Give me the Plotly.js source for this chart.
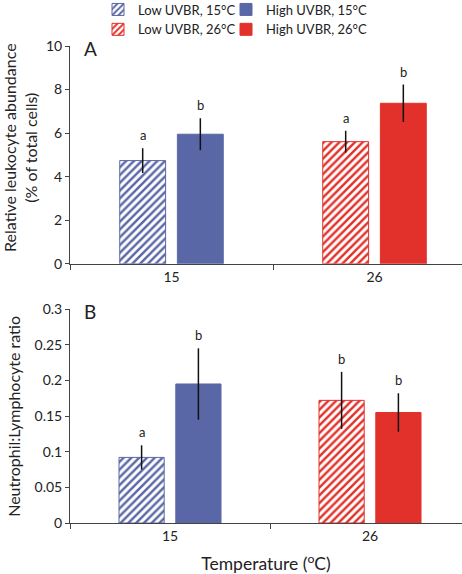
<!DOCTYPE html>
<html>
<head>
<meta charset="utf-8">
<script src="https://cdn.plot.ly/plotly-3.0.1.min.js"></script>
<style>html,body{margin:0;padding:0;background:#fff;overflow:hidden;}#chart{width:462px;height:574px;}</style>
</head>
<body>
<div id="chart"></div>
<script>
// ---- data ----
var categories = ['15', '26'];
var temps = ['15°C', '26°C'];
// Panel A: Relative leukocyte abundance (% of total cells)
var lowA = [4.74, 5.61];
var lowAErr = [0.57, 0.50];
var highA = [5.95, 7.37];
var highAErr = [0.73, 0.86];
var lowALetters = ['a', 'a'];
var highALetters = ['b', 'b'];
// Panel B: Neutrophil:Lymphocyte ratio
var lowB = [0.092, 0.172];
var lowBErr = [0.017, 0.040];
var highB = [0.195, 0.155];
var highBErr = [0.050, 0.027];
var lowBLetters = ['a', 'b'];
var highBLetters = ['b', 'b'];
var yTitleA = 'Relative leukocyte abundance<br>(% of total cells)';
var yTitleB = 'Neutrophil:Lymphocyte ratio';
var xTitle = 'Temperature (<sup>o</sup>C)';

var colors = ['#5a67a6', '#e2312b'];
var FONT = 'Lato, "Open Sans", sans-serif';
var BW = 0.226, OFF_LOW = -0.255, OFF_HIGH = 0.029;

var traces = [];
var annotations = [];

function addPanel(low, lowErr, high, highErr, lowLet, highLet, xa, ya, showLegend) {
  for (var i = 0; i < categories.length; i++) {
    traces.push({
      type: 'bar', x: [categories[i]], y: [low[i]],
      xaxis: xa, yaxis: ya,
      name: 'Low UVBR, ' + temps[i],
      legend: 'legend',
      legendrank: i,
      showlegend: showLegend,
      width: BW, offset: OFF_LOW,
      marker: {color: '#ffffff', line: {color: colors[i], width: 1},
               pattern: {shape: '/', fgcolor: colors[i], bgcolor: '#ffffff', fgopacity: 1,
                         size: 5.5, solidity: 0.45, fillmode: 'overlay'}},
      error_y: {type: 'data', array: [lowErr[i]], color: '#111', thickness: 1.5, width: 0},
      hoverinfo: 'skip'
    });
    traces.push({
      type: 'bar', x: [categories[i]], y: [high[i]],
      xaxis: xa, yaxis: ya,
      name: 'High UVBR, ' + temps[i],
      legend: 'legend2',
      legendrank: i,
      showlegend: showLegend,
      width: BW, offset: OFF_HIGH,
      marker: {color: colors[i], line: {color: colors[i], width: 1}},
      error_y: {type: 'data', array: [highErr[i]], color: '#111', thickness: 1.5, width: 0},
      hoverinfo: 'skip'
    });
    annotations.push({
      xref: xa, yref: ya, x: i + OFF_LOW + BW / 2, y: low[i] + lowErr[i],
      text: lowLet[i], showarrow: false, yanchor: 'middle', yshift: 13,
      font: {family: FONT, size: 13, color: '#222'}
    });
    annotations.push({
      xref: xa, yref: ya, x: i + OFF_HIGH + BW / 2, y: high[i] + highErr[i],
      text: highLet[i], showarrow: false, yanchor: 'middle', yshift: 13,
      font: {family: FONT, size: 13, color: '#222'}
    });
  }
}

addPanel(lowA, lowAErr, highA, highAErr, lowALetters, highALetters, 'x', 'y', true);
addPanel(lowB, lowBErr, highB, highBErr, lowBLetters, highBLetters, 'x2', 'y2', false);

// panel letters
annotations.push({xref: 'paper', yref: 'paper', x: 0.03, y: 0.995, xanchor: 'left', yanchor: 'middle',
  text: 'A', showarrow: false, font: {family: FONT, size: 19, color: '#222'}});
annotations.push({xref: 'paper', yref: 'paper', x: 0.03, y: 0.4434, xanchor: 'left', yanchor: 'middle',
  text: 'B', showarrow: false, font: {family: FONT, size: 19, color: '#222'}});
// y-axis titles (rotated)
annotations.push({xref: 'paper', yref: 'paper', x: -0.1263, y: 0.7873, xanchor: 'center', yanchor: 'middle',
  textangle: -90, text: yTitleA, showarrow: false, font: {family: FONT, size: 16, color: '#222'}});
annotations.push({xref: 'paper', yref: 'paper', x: -0.1446, y: 0.2233, xanchor: 'center', yanchor: 'middle',
  textangle: -90, text: yTitleB, showarrow: false, font: {family: FONT, size: 16, color: '#222'}});

var axisCommon = {
  showline: true, linecolor: '#444', linewidth: 1, showgrid: false, zeroline: false,
  ticks: 'outside', tickcolor: '#444', ticklen: 4,
  tickfont: {family: FONT, size: 14, color: '#222'}
};
function xax(extra) { return Object.assign({}, axisCommon, {type: 'category', tickson: 'boundaries', ticklen: 5}, extra); }
function yax(extra) { return Object.assign({}, axisCommon, extra); }

var legendCommon = {yref: 'paper', y: 1.108, xanchor: 'left', yanchor: 'top',
  orientation: 'v', font: {family: FONT, size: 13, color: '#222'}, bgcolor: 'rgba(0,0,0,0)', tracegroupgap: 0,
  itemwidth: 30};

var layout = {
  width: 462, height: 574,
  margin: {l: 70, r: 0, t: 46, b: 51, autoexpand: false},
  paper_bgcolor: '#fff', plot_bgcolor: '#fff',
  barmode: 'overlay',
  font: {family: FONT, color: '#222'},
  showlegend: true,
  xaxis: xax({anchor: 'y', range: [-0.5, 1.431], domain: [0, 1]}),
  yaxis: yax({anchor: 'x', domain: [0.5433, 1], range: [0, 10], tickvals: [0, 2, 4, 6, 8, 10]}),
  xaxis2: xax({anchor: 'y2', range: [-0.5, 1.46], domain: [0, 1],
    title: {text: xTitle, standoff: 16, font: {family: FONT, size: 17.5, color: '#222'}}}),
  yaxis2: yax({anchor: 'x2', domain: [0, 0.4484], range: [0, 0.3],
    tickvals: [0, 0.05, 0.1, 0.15, 0.2, 0.25, 0.3], ticktext: ['0', '0.05', '0.1', '0.15', '0.2', '0.25', '0.3']}),
  legend: Object.assign({}, legendCommon, {xref: 'container', x: 98 / 462}),
  legend2: Object.assign({}, legendCommon, {xref: 'container', x: 226 / 462}),
  annotations: annotations
};

Plotly.newPlot('chart', traces, layout, {displayModeBar: false, staticPlot: true});
</script>
</body>
</html>
